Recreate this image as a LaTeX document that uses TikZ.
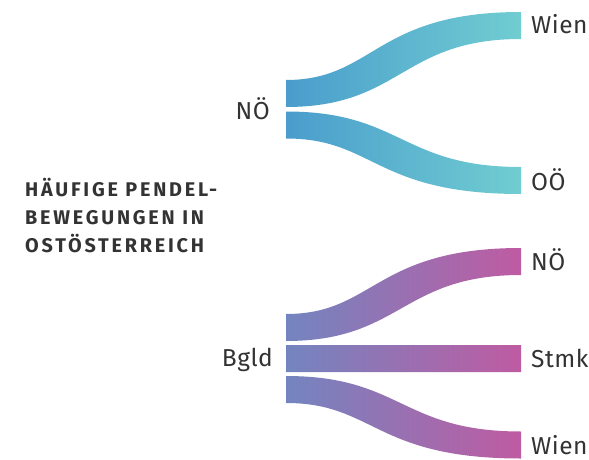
\documentclass[tikz,border=0pt]{standalone}
\usepackage{fontspec}
\setmainfont{Fira Sans}
\usetikzlibrary{calc}
\definecolor{txt}{HTML}{333333}
\definecolor{tL}{HTML}{4A9DCC}
\definecolor{tM}{HTML}{4BBCCF}
\definecolor{tR}{HTML}{70CDD1}
\definecolor{bL}{HTML}{7385C0}
\definecolor{bM}{HTML}{9C70AF}
\definecolor{bR}{HTML}{BF5BA2}
\newfontfamily\lblfont[LetterSpace=2]{Fira Sans}
\newfontfamily\ttlfont[LetterSpace=14]{Fira Sans}
\newcommand\ribbon[5]{%
  \shade[left color=#3, middle color=#4, right color=#5]
    let \p1=(#1), \p2=(#2), \n1={sign(\y2-\y1)}, \n2={\x1+0.434*(\x2-\x1)} in
    (\x1,\y1+13.5pt) .. controls ({\n2-\n1*13.5},\y1+13.5pt) and ({\n2-\n1*13.5},\y2+13.5pt) .. (\x2,\y2+13.5pt)
    -- (\x2,\y2-13.5pt) .. controls ({\n2+\n1*13.5},\y2-13.5pt) and ({\n2+\n1*13.5},\y1-13.5pt) .. (\x1,\y1-13.5pt)
    -- cycle;}
\tikzset{
  lbl/.style={font=\lblfont\fontsize{24.5}{24.5}\selectfont, text=txt, inner sep=0pt},
  ttl/.style={font=\ttlfont\fontsize{19.8}{28}\selectfont\bfseries, text=txt, inner sep=0pt, align=left}
}
\begin{document}
\begin{tikzpicture}[x=1pt,y=-1pt]
\useasboundingbox (0,0) rectangle (589,460);
% ribbon ends
\coordinate (a0) at (286,93.5);  \coordinate (a1) at (521,25.5);
\coordinate (b0) at (286,125);   \coordinate (b1) at (521,180.5);
\coordinate (c0) at (286,327.5); \coordinate (c1) at (521,261.5);
\coordinate (d0) at (286,358.5); \coordinate (d1) at (521,358.5);
\coordinate (e0) at (286,389.5); \coordinate (e1) at (521,445);
\ribbon{a0}{a1}{tL}{tM}{tR}
\ribbon{b0}{b1}{tL}{tM}{tR}
\ribbon{c0}{c1}{bL}{bM}{bR}
\ribbon{d0}{d1}{bL}{bM}{bR}
\ribbon{e0}{e1}{bL}{bM}{bR}
% labels
\node[lbl, anchor=base east] (noe) at (270,119) {NÖ};
\node[lbl, anchor=base east] (bgld) at (273,366) {Bgld};
\node[lbl, anchor=base west] (wien1) at (531,33.5) {Wien};
\node[lbl, anchor=base west] (ooe) at (531,190) {OÖ};
\node[lbl, anchor=base west] (noe2) at (531,270.5) {NÖ};
\node[lbl, anchor=base west] (stmk) at (531,367) {Stmk};
\node[lbl, anchor=base west] (wien2) at (531,454) {Wien};
\node[ttl, anchor=base west] (title) at (25,252) {HÄUFIGE PENDEL-\\BEWEGUNGEN IN\\OSTÖSTERREICH};
\end{tikzpicture}
\end{document}
